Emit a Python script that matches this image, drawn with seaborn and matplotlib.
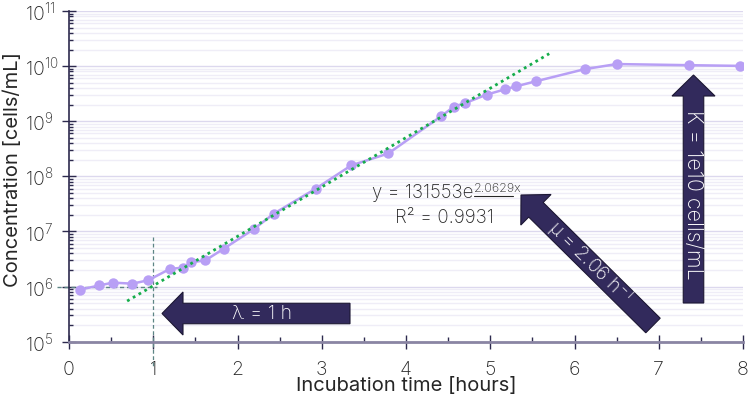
import numpy as np
import matplotlib
matplotlib.use('Agg')
import matplotlib.pyplot as plt
import matplotlib.transforms as mtransforms
from matplotlib.patches import Polygon
from matplotlib.ticker import FixedLocator, FixedFormatter, LogLocator, NullFormatter
import seaborn as sns

# growth curve
time_h = [0.13, 0.36, 0.52, 0.75, 0.94, 1.20, 1.35, 1.45, 1.62, 1.84, 2.20, 2.43,
          2.93, 3.35, 3.79, 4.42, 4.57, 4.70, 4.96, 5.17, 5.30, 5.54, 6.12, 6.50,
          7.36, 7.96]
conc = [8.8e5, 1.05e6, 1.18e6, 1.13e6, 1.3e6, 2.1e6, 2.2e6, 2.75e6, 3.0e6, 4.9e6,
        1.12e7, 2.1e7, 6.0e7, 1.58e8, 2.6e8, 1.24e9, 1.85e9, 2.13e9, 3.05e9,
        3.77e9, 4.27e9, 5.3e9, 8.8e9, 1.09e10, 1.04e10, 1.01e10]

# exponential trendline y = a*e^(b*x)
fit_a = 131553
fit_b = 2.0629
fit_x = [0.69, 5.70]
fit_y = [fit_a * np.exp(fit_b * x) for x in fit_x]

lag_time = 1.0
start_conc = 1e6

xticks = [0, 1, 2, 3, 4, 5, 6, 7, 8]
yticks = [1e5, 1e6, 1e7, 1e8, 1e9, 1e10, 1e11]
ytick_labels = ['10$^{5}$', '10$^{6}$', '10$^{7}$', '10$^{8}$', '10$^{9}$',
                '10$^{10}$', '10$^{11}$']

PURPLE = '#b89ff5'
GREEN = '#16ad4c'
NAVY = '#322a5c'
DASH = '#5d8585'
TXT = '#262626'

sns.set_theme(style='white')
plt.rcParams['font.family'] = ['Inter', 'DejaVu Sans']
plt.rcParams['font.weight'] = 'light'
plt.rcParams['mathtext.default'] = 'regular'

fig = plt.figure(figsize=(7.48, 3.96), dpi=100)
ax = fig.add_axes([69 / 748, 1 - 341.7 / 396, 674 / 748, 330.7 / 396])
ax.set_yscale('log')

sns.lineplot(x=time_h, y=conc, ax=ax, color=PURPLE, lw=1.8, marker='o',
             markersize=7.5, markeredgewidth=0, zorder=3)
sns.lineplot(x=fit_x, y=fit_y, ax=ax, color=GREEN, lw=2,
             linestyle=(0, (1, 1.4)), zorder=4)

# lag lines
ax.plot([-0.14, lag_time + 0.05], [start_conc, start_conc], ls=(0, (3, 2)),
        lw=1, color=DASH, clip_on=False, zorder=2)
ax.plot([lag_time, lag_time], [8e6, 3.5e4], ls=(0, (3, 2)), lw=0.9,
        color=DASH, clip_on=False, zorder=2)

ax.set_xlim(0, 8)
ax.set_ylim(1e5, 1e11)
ax.xaxis.set_major_locator(FixedLocator(xticks))
ax.xaxis.set_minor_locator(FixedLocator([x + 0.5 for x in xticks[:-1]]))
ax.yaxis.set_major_locator(FixedLocator(yticks))
ax.yaxis.set_major_formatter(FixedFormatter(ytick_labels))
ax.yaxis.set_minor_locator(LogLocator(base=10, subs=np.arange(2, 10), numticks=20))
ax.yaxis.set_minor_formatter(NullFormatter())

ax.yaxis.grid(True, which='major', color='#dcd8ee', lw=1)
ax.yaxis.grid(True, which='minor', color='#efedf7', lw=1)
ax.xaxis.grid(False)
ax.set_axisbelow(True)

for s in ['top', 'right']:
    ax.spines[s].set_visible(False)
ax.spines['left'].set_color('#2d2a4e')
ax.spines['left'].set_linewidth(1.2)
ax.spines['bottom'].set_color('#8a85a3')
ax.spines['bottom'].set_linewidth(2)

ax.tick_params(axis='x', which='major', direction='inout', length=10, width=1,
               color='#2d2a4e', labelsize=14, labelcolor=TXT, pad=9)
ax.tick_params(axis='x', which='minor', direction='in', length=3.6, width=1,
               color='#2d2a4e')
ax.tick_params(axis='y', which='major', direction='inout', length=10, width=1,
               color='#2d2a4e', labelsize=14, labelcolor=TXT, pad=27)
ax.tick_params(axis='y', which='minor', direction='in', length=3, width=1,
               color='#2d2a4e')
ax.tick_params(left=True, bottom=True)
ax.tick_params(axis='both', which='minor', left=True, bottom=True)
for lbl in ax.get_yticklabels():
    lbl.set_ha('left')

ax.set_xlabel('Incubation time [hours]', fontsize=14.5, color=TXT, va='top')
ax.set_ylabel('Concentration [cells/mL]', fontsize=14.5, color=TXT)
ax.xaxis.set_label_coords(0.5, -0.108)
ax.yaxis.set_label_coords(-0.07, 0.52)

# annotations are placed in pixel space (y measured from the top)
px = mtransforms.Affine2D().scale(1, -1).translate(0, 396).scale(1 / 748, 1 / 396) + fig.transFigure


def arrow(tip, tail, body_w=20.5, head_w=43, head_l=21):
    tip = np.array(tip, float)
    tail = np.array(tail, float)
    d = tip - tail
    u = d / np.hypot(*d)
    n = np.array([-u[1], u[0]])
    base = tip - u * head_l
    verts = [tail + n * body_w / 2, base + n * body_w / 2, base + n * head_w / 2,
             tip, base - n * head_w / 2, base - n * body_w / 2, tail - n * body_w / 2]
    ax.add_patch(Polygon(verts, closed=True, transform=px, facecolor=NAVY,
                         edgecolor='#1c1733', lw=0.8, clip_on=False, zorder=5))


arrow((162, 313.5), (350, 313.5))
ax.text(262, 314, 'λ = 1 h', transform=px, color='white', fontsize=14,
        ha='center', va='center', zorder=6)

arrow((521, 195), (653, 325.5))
ax.text(590, 262, 'μ = 2.06 h$^{-1}$', transform=px, color='white', fontsize=14,
        ha='center', va='center', rotation=-44.7, rotation_mode='anchor', zorder=6)

arrow((693.5, 75), (693.5, 303))
ax.text(693.5, 195, 'K = 1e10 cells/mL', transform=px, color='white', fontsize=15.5,
        ha='center', va='center', rotation=-90, rotation_mode='anchor', zorder=6)

# trendline equation
ax.text(473, 198, 'y = 131553e', transform=px, color=TXT, fontsize=13.5,
        ha='right', va='baseline')
ax.text(474, 192.5, '2.0629x', transform=px, color=TXT, fontsize=9,
        ha='left', va='baseline')
ax.plot([474, 513], [195.5, 195.5], transform=px, color=TXT, lw=0.8, clip_on=False)
ax.text(444, 223, 'R² = 0.9931', transform=px, color=TXT, fontsize=13.5,
        ha='center', va='baseline')

fig.savefig('out.png', dpi=100)
